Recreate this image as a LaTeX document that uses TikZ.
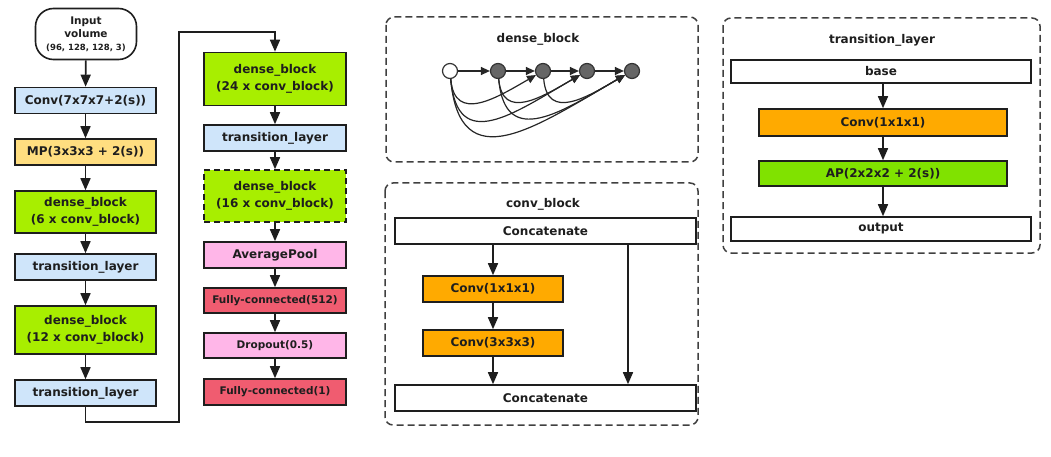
\documentclass[tikz,border=0pt]{standalone}
\usepackage{fontspec}
\setmainfont{DejaVu Sans}
\usetikzlibrary{arrows.meta}
\definecolor{lblue}{RGB}{207,229,250}
\definecolor{lyellow}{RGB}{255,222,128}
\definecolor{lgreen}{RGB}{168,238,0}
\definecolor{agreen}{RGB}{128,226,0}
\definecolor{lpink}{RGB}{255,182,232}
\definecolor{lred}{RGB}{240,92,112}
\definecolor{lorange}{RGB}{255,170,0}
\definecolor{ink}{RGB}{30,30,30}
\begin{document}
\begin{tikzpicture}[x=1pt,y=-1pt]
\tikzset{every node/.style={font=\bfseries\fontsize{12}{16.5}\selectfont,text=ink,inner sep=0,align=center},
  box/.style={draw=ink,line width=1.6pt,minimum width=141pt,minimum height=26pt},
  small/.style={font=\bfseries\fontsize{10.5}{13}\selectfont},
  flow/.style={-{Triangle[length=12pt,width=10pt]},line width=1.6pt,ink},
  link/.style={-{Triangle[length=9pt,width=8pt]},line width=1.2pt,black!85},
  panel/.style={draw=black!75,line width=1.5pt,dash pattern=on 7pt off 4pt,rounded corners=8pt}}
\useasboundingbox (0,0) rectangle (1051,457);

    % main network, left column
    \node[box,fill=white,rounded corners=18pt,minimum width=101pt,minimum height=51pt,font=\bfseries\fontsize{10.5}{13}\selectfont] (in) at (86,34) {Input\\volume\\{\fontsize{8.5}{10}\selectfont(96, 128, 128, 3)}};
    \node[box,fill=lblue] (c7) at (85.5,100.5) {Conv(7x7x7+2(s))};
    \node[box,fill=lyellow] (mp) at (85.5,152) {MP(3x3x3 + 2(s))};
    \node[box,fill=lgreen,minimum height=42pt] (d6) at (85.5,212) {dense\_block\\(6 x conv\_block)};
    \node[box,fill=lblue] (t1) at (85.5,267) {transition\_layer};
    \node[box,fill=lgreen,minimum height=48pt] (d12) at (85.5,330) {dense\_block\\(12 x conv\_block)};
    \node[box,fill=lblue] (t2) at (85.5,393) {transition\_layer};

    % right column
    \node[box,fill=lgreen,minimum width=142pt,minimum height=53pt] (d24) at (275,79) {dense\_block\\(24 x conv\_block)};
    \node[box,fill=lblue,minimum width=142pt] (t3) at (275,138) {transition\_layer};
    \node[box,fill=lgreen,minimum width=142pt,minimum height=52pt,dash pattern=on 6pt off 4pt] (d16) at (275,196) {dense\_block\\(16 x conv\_block)};
    \node[box,fill=lpink,minimum width=142pt] (ap) at (275,255) {AveragePool};
    \node[box,fill=lred,minimum width=142pt,minimum height=25pt,small] (fc5) at (275,300.5) {Fully-connected(512)};
    \node[box,fill=lpink,minimum width=142pt,minimum height=25pt,small] (dp) at (275,345.5) {Dropout(0.5)};
    \node[box,fill=lred,minimum width=142pt,small] (fc1) at (275,392) {Fully-connected(1)};

    \path[flow] (in) edge (c7) (c7) edge (mp) (mp) edge (d6) (d6) edge (t1) (t1) edge (d12) (d12) edge (t2)
                (d24) edge (t3) (t3) edge (d16) (d16) edge (ap) (ap) edge (fc5) (fc5) edge (dp) (dp) edge (fc1);
    \coordinate (lb) at (179,422);
    \coordinate (lt) at (179,32);
    \draw[flow] (t2.south) |- (lb) -- (lt) -| (d24.north);

    % dense_block
    \draw[panel] (386,17) rectangle (698,162);
    \node (dbt) at (538,39) {dense\_block};
    \node[circle,draw=black!80,fill=white,line width=1.2pt,minimum size=15pt] (g0) at (450,71) {};
    \node[circle,draw=black!80,fill=black!60,line width=1.2pt,minimum size=15pt] (g1) at (498,71) {};
    \node[circle,draw=black!80,fill=black!60,line width=1.2pt,minimum size=15pt] (g2) at (543,71) {};
    \node[circle,draw=black!80,fill=black!60,line width=1.2pt,minimum size=15pt] (g3) at (587,71) {};
    \node[circle,draw=black!80,fill=black!60,line width=1.2pt,minimum size=15pt] (g4) at (632,71) {};
    \path[link] (g0) edge (g1) (g1) edge (g2) (g2) edge (g3) (g3) edge (g4);
    \path[link] (g0) edge[out=-85,in=-150,looseness=1.35] (g2)
                (g0) edge[out=-85,in=-150,looseness=1.5] (g3)
                (g0) edge[out=-85,in=-150,looseness=1.5] (g4)
                (g1) edge[out=-85,in=-150,looseness=1.35] (g3)
                (g1) edge[out=-85,in=-150,looseness=1.45] (g4)
                (g2) edge[out=-85,in=-150,looseness=1.35] (g4);

    % conv_block
    \draw[panel] (385,183) rectangle (698,425);
    \node (cbt) at (543,204) {conv\_block};
    \node[box,fill=white,minimum width=301pt] (cc1) at (545.5,231) {Concatenate};
    \node[box,fill=lorange,minimum width=140pt] (k1) at (493,289) {Conv(1x1x1)};
    \node[box,fill=lorange,minimum width=140pt] (k3) at (493,343) {Conv(3x3x3)};
    \node[box,fill=white,minimum width=301pt] (cc2) at (545.5,398) {Concatenate};
    \coordinate (sk) at (628,310);
    \path[flow] (cc1.south -| k1) edge (k1) (k1) edge (k3) (k3) edge (cc2.north -| k3)
                (cc1.south -| sk) edge (cc2.north -| sk);

    % transition_layer
    \draw[panel] (723,18) rectangle (1040,253);
    \node (tlt) at (882,40) {transition\_layer};
    \node[box,fill=white,minimum width=300pt,minimum height=23pt] (bs) at (881,71.5) {base};
    \node[box,fill=lorange,minimum width=248pt,minimum height=27pt] (tc) at (883,122.5) {Conv(1x1x1)};
    \node[box,fill=agreen,minimum width=248pt,minimum height=25pt] (tap) at (883,173.5) {AP(2x2x2 + 2(s))};
    \node[box,fill=white,minimum width=300pt,minimum height=24pt] (out) at (881,229) {output};
    \path[flow] (bs.south -| tc) edge (tc) (tc) edge (tap) (tap) edge (out.north -| tap);
\end{tikzpicture}
\end{document}
